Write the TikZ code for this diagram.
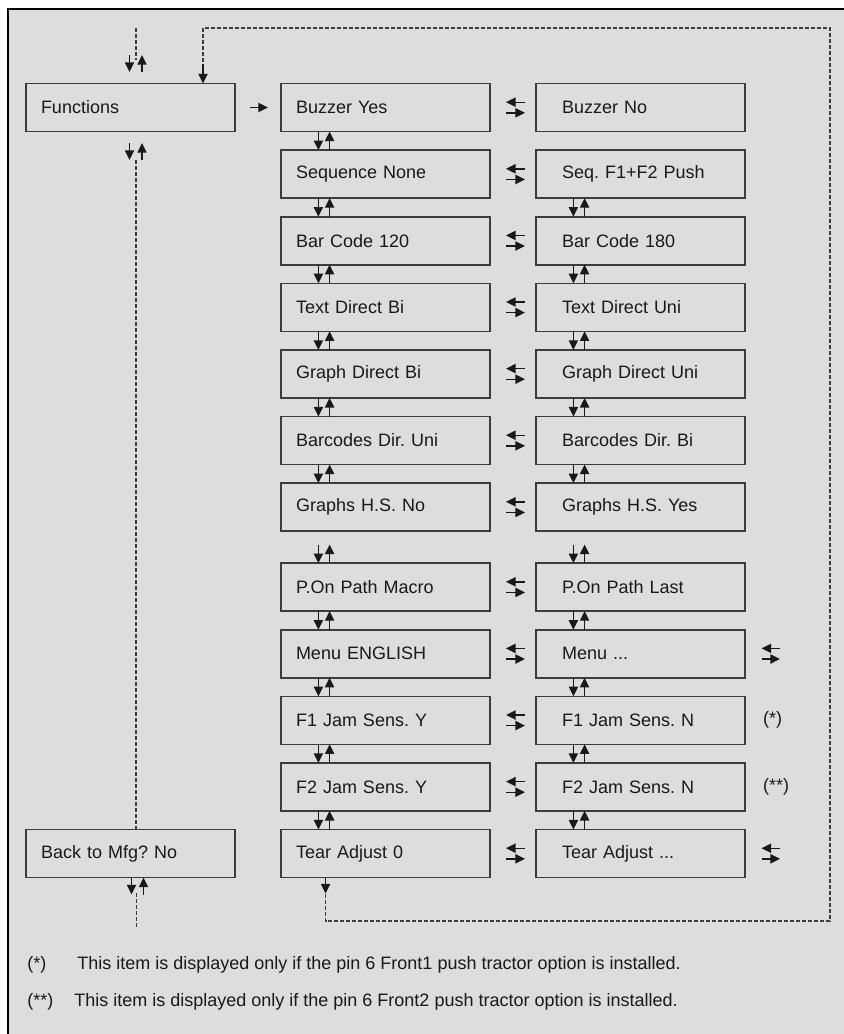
\documentclass[tikz,border=0pt]{standalone}
\usepackage{fontspec}
\setmainfont{Liberation Sans}
\usetikzlibrary{arrows.meta, positioning}
\definecolor{panelgray}{RGB}{221,221,221}
\definecolor{edgegray}{RGB}{60,60,60}
\definecolor{inkgray}{RGB}{25,25,25}

\begin{document}
\frenchspacing
\begin{tikzpicture}[
    font=\fontsize{9pt}{11pt}\selectfont,
    node distance=9.3pt and 23pt,
    menubox/.style={rectangle, draw=edgegray, line width=0.8pt, outer sep=0pt,
        minimum height=24pt, text width=89.5pt, inner xsep=7.5pt, align=left, text=inkgray},
    altbox/.style={menubox, text width=78.5pt, inner xsep=13pt},
    tip/.style={line width=0.7pt, inkgray, -{Triangle[width=4.6pt,length=4.8pt]}},
    loopline/.style={line width=0.6pt, edgegray, dash pattern=on 2pt off 1pt},
    note/.style={anchor=west, inner sep=0pt, text=inkgray}
]
    \useasboundingbox (0,0) rectangle (421.5pt,-517pt);
    % Panel
    \fill[panelgray] (4.15pt,-4.35pt) rectangle (430pt,-530pt);
    \draw[line width=1pt, black] (4.15pt,-530pt) -- (4.15pt,-4.35pt) -- (430pt,-4.35pt);

    % Row 1
    \node[menubox] (fn) at (65.25pt,-53.75pt) {Functions};
    \node[menubox, right=of fn] (b1) {Buzzer Yes};
    \node[altbox, right=of b1] (c1) {Buzzer No};
    % Rows 2-7
    \node[menubox, below=of b1] (b2) {Sequence None};
    \node[altbox, right=of b2] (c2) {Seq. F1+F2 Push};
    \node[menubox, below=of b2] (b3) {Bar Code 120};
    \node[altbox, right=of b3] (c3) {Bar Code 180};
    \node[menubox, below=of b3] (b4) {Text Direct Bi};
    \node[altbox, right=of b4] (c4) {Text Direct Uni};
    \node[menubox, below=of b4] (b5) {Graph Direct Bi};
    \node[altbox, right=of b5] (c5) {Graph Direct Uni};
    \node[menubox, below=of b5] (b6) {Barcodes Dir. Uni};
    \node[altbox, right=of b6] (c6) {Barcodes Dir. Bi};
    \node[menubox, below=of b6] (b7) {Graphs H.S. No};
    \node[altbox, right=of b7] (c7) {Graphs H.S. Yes};
    % Rows 8-12
    \node[menubox, below=16pt of b7] (b8) {P.On Path Macro};
    \node[altbox, right=of b8] (c8) {P.On Path Last};
    \node[menubox, below=of b8] (b9) {Menu ENGLISH};
    \node[altbox, right=of b9] (c9) {Menu ...};
    \node[menubox, below=of b9] (b10) {F1 Jam Sens. Y};
    \node[altbox, right=of b10] (c10) {F1 Jam Sens. N};
    \node[menubox, below=of b10] (b11) {F2 Jam Sens. Y};
    \node[altbox, right=of b11] (c11) {F2 Jam Sens. N};
    \node[menubox, below=of b11] (b12) {Tear Adjust 0};
    \node[altbox, right=of b12] (c12) {Tear Adjust ...};
    \node[menubox, left=of b12] (mfg) {Back to Mfg? No};

    % Side notes
    \node[note] (n1) at ([xshift=8.8pt]c10.east) {(*)};
    \node[note] (n2) at ([xshift=8.8pt]c11.east) {(**)};

    % Arrows
    \draw[tip, shorten <=7.5pt, shorten >=6.5pt] (fn) -- (b1);
    \foreach \j in {2,...,12}
    {
        \draw[tip] ([xshift=18.7pt,yshift=9.3pt]b\j.north west) -- ([xshift=18.7pt]b\j.north west);
        \draw[tip] ([xshift=24.3pt]b\j.north west) -- ([xshift=24.3pt,yshift=9.3pt]b\j.north west);
    }
    \foreach \j in {3,...,12}
    {
        \draw[tip] ([xshift=18.7pt,yshift=9.3pt]c\j.north west) -- ([xshift=18.7pt]c\j.north west);
        \draw[tip] ([xshift=24.3pt]c\j.north west) -- ([xshift=24.3pt,yshift=9.3pt]c\j.north west);
    }
    \foreach \i in {1,...,12}
    {
        \draw[tip, shorten <=5.5pt, shorten >=8pt] ([yshift=2.65pt]c\i.west) -- ([yshift=2.65pt]b\i.east);
        \draw[tip, shorten <=8pt, shorten >=5.5pt] ([yshift=-2.65pt]b\i.east) -- ([yshift=-2.65pt]c\i.west);
    }
    \foreach \k in {9,12}
    {
        \draw[tip] ([shift={(17.5pt,2.65pt)}]c\k.east) -- ([shift={(8.3pt,2.65pt)}]c\k.east);
        \draw[tip] ([shift={(8.3pt,-2.65pt)}]c\k.east) -- ([shift={(17.5pt,-2.65pt)}]c\k.east);
    }

    % Left column: up and down
    \draw[loopline] ([xshift=2.75pt,yshift=27.75pt]fn.north) -- ++(0,-16pt);
    \draw[tip] ([xshift=-0.5pt,yshift=14.25pt]fn.north) -- ++(0,-8.5pt);
    \draw[tip] ([xshift=5.75pt,yshift=5.75pt]fn.north) -- ++(0,8.5pt);
    \draw[tip] ([xshift=-0.5pt,yshift=-5.75pt]fn.south) -- ++(0,-8.5pt);
    \draw[tip] ([xshift=5.75pt,yshift=-14.25pt]fn.south) -- ++(0,8.5pt);
    \draw[loopline] ([xshift=2.75pt,yshift=-14.25pt]fn.south) -- ([xshift=2.75pt]fn.south |- mfg.north);
    \draw[tip] ([xshift=0.5pt]mfg.south) -- ++(0,-8.5pt);
    \draw[tip] ([xshift=6.5pt,yshift=-8.5pt]mfg.south) -- ++(0,8.5pt);
    \draw[loopline] ([xshift=3pt,yshift=-7.75pt]mfg.south) -- ++(0,-17.5pt);

    % Return loop
    \coordinate (loopS) at ([xshift=22.3pt,yshift=-8pt]b12.south west);
    \coordinate (loopE) at ([xshift=-16pt,yshift=9.75pt]fn.north east);
    \draw[tip] (loopS |- b12.south) -- (loopS);
    \draw[loopline] (loopS) -- ++(0,-13.75pt) -| (415pt,-14pt) -| (loopE);
    \draw[tip] (loopE) -- (loopE |- fn.north);

    % Footnotes
    \node[note] (s1) at (13.5pt,-482.5pt) {(*)};
    \node[note] (t1) at (38.5pt,-482.5pt) {This item is displayed only if the pin 6 Front1 push tractor option is installed.};
    \node[note] (s2) at (13.5pt,-501pt) {(**)};
    \node[note] (t2) at (37pt,-501pt) {This item is displayed only if the pin 6 Front2 push tractor option is installed.};
\end{tikzpicture}
\end{document}
